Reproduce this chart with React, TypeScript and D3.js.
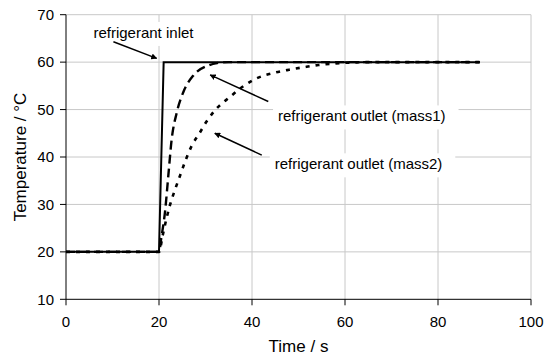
import React from "react";
import * as d3 from "d3";

const W = 551;
const H = 358;
const margin = { left: 66, right: 20, top: 14.7, bottom: 58.7 };

const xTicks = [0, 20, 40, 60, 80, 100];
const yTicks = [10, 20, 30, 40, 50, 60, 70];

// Time (s) / Temperature (°C)
const inletT = [0, 20, 21, 89];
const inletV = [20, 20, 60, 60];

const mass1T = [0, 20, 20.5, 21.3, 22, 22.7, 23.8, 25.2, 27.4, 30.6, 32.5, 35, 89];
const mass1V = [20, 20, 23, 28.5, 36, 43.5, 49.3, 53.6, 57.2, 59.3, 59.8, 60, 60];

const mass2T = [0, 20, 20.8, 21.6, 22.4, 23.4, 24.5, 25.6, 27, 28.7, 30.3, 32, 35.3, 37.8, 40.6, 45, 48, 51, 54.3, 57.5, 61, 65, 89];
const mass2V = [20, 20, 23.5, 27, 30, 33, 36, 39, 42.3, 45, 47.6, 49.8, 52.7, 54.7, 56.4, 57.8, 58.4, 58.9, 59.4, 59.7, 59.9, 60, 60];

const annLabels = ["refrigerant inlet", "refrigerant outlet (mass1)", "refrigerant outlet (mass2)"];
const annTextAt = [[5.9, 65.1], [45.6, 47.5], [44.9, 37.4]];
const annArrowFrom = [[10.2, 64.3], [43.5, 51.7], [42.1, 40.4]];
const annArrowTo = [[19.5, 60.8], [31.0, 57.3], [32.0, 45.0]];

export default function App() {
  const x = d3.scaleLinear().domain([0, 100]).range([margin.left, W - margin.right]);
  const y = d3.scaleLinear().domain([10, 70]).range([H - margin.bottom, margin.top]);

  const lineLinear = d3.line<[number, number]>().x((d) => x(d[0])).y((d) => y(d[1]));
  const lineSmooth = d3
    .line<[number, number]>()
    .x((d) => x(d[0]))
    .y((d) => y(d[1]))
    .curve(d3.curveMonotoneX);

  const zip = (a: number[], b: number[]) => a.map((v, i) => [v, b[i]] as [number, number]);

  const font = "'Liberation Sans', Arial, sans-serif";
  const grid = "#c8c8c8";
  const x0 = x(0), x1 = x(100), y0 = y(10), y1 = y(70);

  return (
    <svg
      width={W}
      height={H}
      style={{ position: "absolute", left: 0, top: 0, background: "#fff" }}
      fontFamily={font}
    >
      <defs>
        <marker id="ah" viewBox="0 0 10 10" refX="9" refY="5" markerWidth="6" markerHeight="6" orient="auto" markerUnits="userSpaceOnUse">
          <path d="M0,0 L10,5 L0,10 z" fill="#000" />
        </marker>
      </defs>
      <rect x={0} y={0} width={W} height={H} fill="#fff" />
      {/* grid */}
      {xTicks.filter((t) => t > 0).map((t) => (
        <line key={"gx" + t} x1={x(t)} x2={x(t)} y1={y0} y2={y1} stroke={grid} strokeWidth={1} />
      ))}
      {yTicks.filter((t) => t > 10).map((t) => (
        <line key={"gy" + t} x1={x0} x2={x1} y1={y(t)} y2={y(t)} stroke={grid} strokeWidth={1} />
      ))}
      {/* annotation backgrounds */}
      {annLabels.map((l, i) => {
        const tx = x(annTextAt[i][0]);
        const ty = y(annTextAt[i][1]);
        const w = l.length * 6.75;
        return <rect key={"bg" + i} x={tx - 5} y={ty - 16} width={w + 10} height={24} fill="#fff" />;
      })}
      {/* series */}
      <path d={lineSmooth(zip(mass2T, mass2V)) || ""} fill="none" stroke="#000" strokeWidth={2.6} strokeDasharray="4 6" />
      <path d={lineSmooth(zip(mass1T, mass1V)) || ""} fill="none" stroke="#000" strokeWidth={2.4} strokeDasharray="9 5" />
      <path d={lineLinear(zip(inletT, inletV)) || ""} fill="none" stroke="#000" strokeWidth={2} />
      {/* axes */}
      <line x1={x0} x2={x0} y1={y0} y2={y1} stroke="#000" strokeWidth={1} />
      <line x1={x0} x2={x1} y1={y0} y2={y0} stroke="#000" strokeWidth={1} />
      {yTicks.map((t) => (
        <g key={"ty" + t}>
          <line x1={x0 - 6} x2={x0} y1={y(t)} y2={y(t)} stroke="#000" />
          <text x={x0 - 12} y={y(t)} dy="0.35em" textAnchor="end" fontSize={15} fill="#000">
            {t}
          </text>
        </g>
      ))}
      {xTicks.map((t) => (
        <g key={"tx" + t}>
          <line x1={x(t)} x2={x(t)} y1={y0} y2={y0 + 6} stroke="#000" />
          <text x={x(t)} y={y0 + 28} textAnchor="middle" fontSize={15} fill="#000">
            {t}
          </text>
        </g>
      ))}
      <text x={(x0 + x1) / 2} y={352} textAnchor="middle" fontSize={17} fill="#000">
        Time / s
      </text>
      <text transform={`translate(26,${(y0 + y1) / 2}) rotate(-90)`} textAnchor="middle" fontSize={17} fill="#000">
        Temperature / °C
      </text>
      {/* annotations */}
      {annLabels.map((l, i) => (
        <g key={"an" + i}>
          <text x={x(annTextAt[i][0])} y={y(annTextAt[i][1])} fontSize={15} fill="#000">
            {l}
          </text>
          <line
            x1={x(annArrowFrom[i][0])}
            y1={y(annArrowFrom[i][1])}
            x2={x(annArrowTo[i][0])}
            y2={y(annArrowTo[i][1])}
            stroke="#000"
            strokeWidth={1.5}
            markerEnd="url(#ah)"
          />
        </g>
      ))}
    </svg>
  );
}
